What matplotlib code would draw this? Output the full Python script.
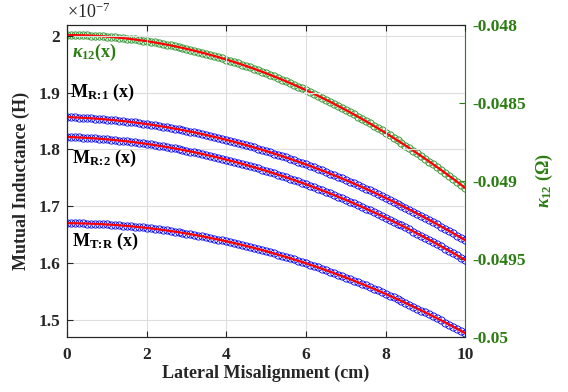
import numpy as np
import matplotlib
matplotlib.use('Agg')
from matplotlib import pyplot as plt
from matplotlib.ticker import FormatStrFormatter, MultipleLocator

plt.rcParams['font.family'] = ['Liberation Serif', 'DejaVu Serif']
plt.rcParams['font.weight'] = 'bold'
plt.rcParams['axes.labelweight'] = 'bold'
plt.rcParams['axes.unicode_minus'] = False
plt.rcParams['mathtext.fontset'] = 'custom'
plt.rcParams['mathtext.rm'] = 'Liberation Serif:bold'
plt.rcParams['mathtext.it'] = 'Liberation Serif:italic:bold'
plt.rcParams['mathtext.bf'] = 'Liberation Serif:bold'

# lateral misalignment (cm), 0 .. 10 in 0.1 steps
x = np.linspace(0, 10, 101)

# mutual inductances, in units of 1e-7 H
M_R1 = [1.8570, 1.8568, 1.8565, 1.8562, 1.8558, 1.8554, 1.8550, 1.8545, 1.8540, 1.8534,
        1.8528, 1.8522, 1.8515, 1.8508, 1.8501, 1.8493, 1.8485, 1.8476, 1.8467, 1.8458,
        1.8448, 1.8438, 1.8427, 1.8416, 1.8405, 1.8393, 1.8381, 1.8368, 1.8355, 1.8342,
        1.8328, 1.8314, 1.8300, 1.8285, 1.8270, 1.8254, 1.8238, 1.8222, 1.8205, 1.8188,
        1.8170, 1.8152, 1.8134, 1.8115, 1.8096, 1.8076, 1.8056, 1.8036, 1.8015, 1.7994,
        1.7972, 1.7951, 1.7928, 1.7906, 1.7883, 1.7859, 1.7835, 1.7811, 1.7786, 1.7761,
        1.7736, 1.7710, 1.7684, 1.7657, 1.7630, 1.7603, 1.7575, 1.7547, 1.7519, 1.7490,
        1.7461, 1.7431, 1.7401, 1.7370, 1.7339, 1.7308, 1.7277, 1.7244, 1.7212, 1.7179,
        1.7146, 1.7112, 1.7078, 1.7044, 1.7009, 1.6974, 1.6939, 1.6903, 1.6866, 1.6830,
        1.6792, 1.6755, 1.6717, 1.6679, 1.6640, 1.6601, 1.6562, 1.6522, 1.6482, 1.6441,
        1.6400]

M_R2 = [1.8220, 1.8218, 1.8215, 1.8212, 1.8208, 1.8204, 1.8200, 1.8195, 1.8190, 1.8184,
        1.8178, 1.8172, 1.8165, 1.8158, 1.8151, 1.8143, 1.8135, 1.8126, 1.8117, 1.8108,
        1.8098, 1.8088, 1.8077, 1.8066, 1.8055, 1.8043, 1.8031, 1.8018, 1.8005, 1.7992,
        1.7978, 1.7964, 1.7950, 1.7935, 1.7920, 1.7904, 1.7888, 1.7872, 1.7855, 1.7838,
        1.7820, 1.7802, 1.7784, 1.7765, 1.7746, 1.7726, 1.7706, 1.7686, 1.7665, 1.7644,
        1.7622, 1.7601, 1.7578, 1.7556, 1.7533, 1.7509, 1.7485, 1.7461, 1.7436, 1.7411,
        1.7386, 1.7360, 1.7334, 1.7307, 1.7280, 1.7253, 1.7225, 1.7197, 1.7169, 1.7140,
        1.7111, 1.7081, 1.7051, 1.7020, 1.6989, 1.6958, 1.6927, 1.6894, 1.6862, 1.6829,
        1.6796, 1.6762, 1.6728, 1.6694, 1.6659, 1.6624, 1.6589, 1.6553, 1.6516, 1.6480,
        1.6442, 1.6405, 1.6367, 1.6329, 1.6290, 1.6251, 1.6212, 1.6172, 1.6132, 1.6091,
        1.6050]

M_TR = [1.6700, 1.6699, 1.6698, 1.6697, 1.6695, 1.6693, 1.6691, 1.6688, 1.6685, 1.6681,
        1.6677, 1.6673, 1.6668, 1.6663, 1.6657, 1.6651, 1.6645, 1.6638, 1.6631, 1.6624,
        1.6616, 1.6608, 1.6599, 1.6590, 1.6581, 1.6571, 1.6561, 1.6551, 1.6540, 1.6529,
        1.6517, 1.6505, 1.6493, 1.6480, 1.6467, 1.6453, 1.6439, 1.6425, 1.6410, 1.6395,
        1.6380, 1.6364, 1.6348, 1.6332, 1.6315, 1.6297, 1.6280, 1.6262, 1.6243, 1.6224,
        1.6205, 1.6185, 1.6165, 1.6145, 1.6124, 1.6103, 1.6082, 1.6060, 1.6038, 1.6015,
        1.5992, 1.5969, 1.5945, 1.5921, 1.5896, 1.5871, 1.5846, 1.5820, 1.5794, 1.5768,
        1.5741, 1.5714, 1.5686, 1.5658, 1.5630, 1.5601, 1.5572, 1.5543, 1.5513, 1.5483,
        1.5452, 1.5421, 1.5390, 1.5358, 1.5326, 1.5293, 1.5260, 1.5227, 1.5193, 1.5159,
        1.5125, 1.5090, 1.5055, 1.5020, 1.4984, 1.4947, 1.4911, 1.4874, 1.4836, 1.4798,
        1.4760]

# coupling coefficient kappa_12 (Ohm), right axis
kappa12 = [-0.0480640, -0.0480641, -0.0480644, -0.0480649, -0.0480656, -0.0480665, -0.0480675,
           -0.0480688, -0.0480703, -0.0480719, -0.0480738, -0.0480759, -0.0480781, -0.0480806,
           -0.0480832, -0.0480861, -0.0480891, -0.0480923, -0.0480958, -0.0480994, -0.0481032,
           -0.0481072, -0.0481114, -0.0481158, -0.0481204, -0.0481253, -0.0481302, -0.0481354,
           -0.0481408, -0.0481464, -0.0481522, -0.0481582, -0.0481644, -0.0481707, -0.0481773,
           -0.0481841, -0.0481910, -0.0481982, -0.0482055, -0.0482131, -0.0482208, -0.0482287,
           -0.0482369, -0.0482452, -0.0482537, -0.0482625, -0.0482714, -0.0482805, -0.0482898,
           -0.0482993, -0.0483090, -0.0483189, -0.0483290, -0.0483393, -0.0483498, -0.0483605,
           -0.0483713, -0.0483824, -0.0483937, -0.0484051, -0.0484168, -0.0484287, -0.0484407,
           -0.0484530, -0.0484654, -0.0484781, -0.0484909, -0.0485039, -0.0485172, -0.0485306,
           -0.0485442, -0.0485580, -0.0485720, -0.0485862, -0.0486006, -0.0486153, -0.0486300,
           -0.0486450, -0.0486602, -0.0486756, -0.0486912, -0.0487070, -0.0487230, -0.0487391,
           -0.0487555, -0.0487721, -0.0487888, -0.0488058, -0.0488229, -0.0488403, -0.0488578,
           -0.0488755, -0.0488935, -0.0489116, -0.0489299, -0.0489485, -0.0489672, -0.0489861,
           -0.0490052, -0.0490245, -0.0490440]

green = '#2b7d12'
mk_green = '#3c9a3c'
dark = '#262626'
tickSize = 12.5
labSize = 13

fig = plt.figure(figsize=(5.68, 3.92), dpi=100)
ax1 = fig.add_axes([0.118, 0.140, 0.701, 0.796])
ax2 = ax1.twinx()

ax1.set_zorder(ax2.get_zorder() + 1)
ax1.patch.set_visible(False)

for y in [M_R1, M_R2, M_TR]:
    ax1.plot(x, y, 'o', color='blue', markerfacecolor='none', markersize=5.2, markeredgewidth=0.6)
    ax1.plot(x, y, '-', color='red', linewidth=1.6)

ax2.plot(x, kappa12, 'o', color=mk_green, markerfacecolor='none', markersize=5.2, markeredgewidth=0.7)
ax2.plot(x, kappa12, '-', color='red', linewidth=1.6)

ax1.set_xlim(0, 10)
ax1.set_ylim(1.469, 2.0194)
ax2.set_ylim(-0.05, -0.048)

ax1.xaxis.set_major_locator(MultipleLocator(2))
ax1.yaxis.set_major_locator(MultipleLocator(0.1))
ax1.yaxis.set_major_formatter(FormatStrFormatter('%g'))
ax2.set_yticks([-0.05, -0.0495, -0.049, -0.0485, -0.048])
ax2.yaxis.set_major_formatter(FormatStrFormatter('%g'))

ax1.grid(True, color='#dedede', linewidth=0.8)
ax1.tick_params(axis='x', direction='in', top=True, length=4, width=0.8, colors=dark,
                labelsize=tickSize, pad=7)
ax1.tick_params(axis='y', direction='in', length=4, width=0.8, colors=dark,
                labelsize=tickSize, pad=5)
ax2.tick_params(axis='y', direction='in', length=4, width=0.8, colors=green,
                labelsize=tickSize, pad=5)

for s in ['left', 'bottom', 'top']:
    ax1.spines[s].set_color(dark)
    ax2.spines[s].set_color(dark)
ax1.spines['right'].set_visible(False)
ax2.spines['right'].set_color(green)

ax1.set_xlabel('Lateral Misalignment (cm)', fontsize=labSize, fontweight='bold',
               color=dark, labelpad=1)
ax1.set_ylabel('Mutual Inductance (H)', fontsize=labSize, fontweight='bold',
               color=dark, labelpad=6)
ax2.set_ylabel(r'$\kappa_{\mathregular{12}}$ ($\mathregular{\Omega}$)', fontsize=labSize,
               fontweight='bold', color=green, labelpad=6)

ax1.text(0.0, 1.01, r'$\mathregular{\times 10^{-7}}$', transform=ax1.transAxes,
         fontsize=13, fontweight='normal', color=dark, ha='left', va='bottom')

ax1.text(0.12, 1.972, r'$\kappa_{\mathregular{12}}$(x)', fontsize=13, color=green,
         ha='left', va='center')
ax1.text(0.08, 1.90, r'$\mathregular{M_{R\!:\!1}}$ (x)', fontsize=13, color='black',
         ha='left', va='center')
ax1.text(0.12, 1.785, r'$\mathregular{M_{R\!:\!2}}$ (x)', fontsize=13, color='black',
         ha='left', va='center')
ax1.text(0.12, 1.637, r'$\mathregular{M_{T\!:\!R}}$ (x)', fontsize=13, color='black',
         ha='left', va='center')

plt.savefig('out.png', dpi=100)
